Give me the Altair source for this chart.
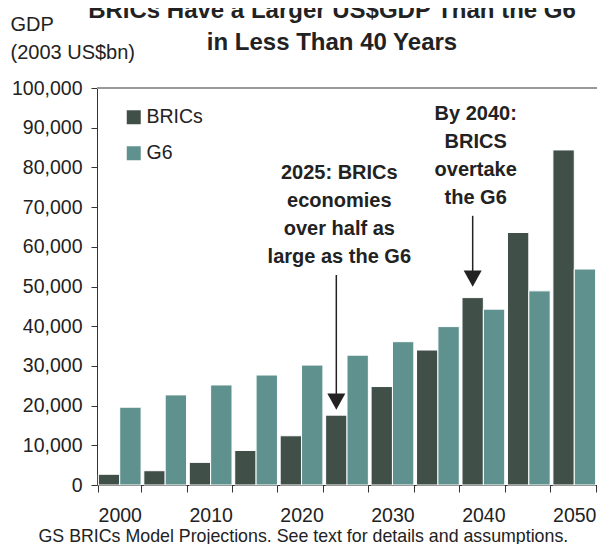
import altair as alt
import pandas as pd

# ---- data ----
years = [2000, 2005, 2010, 2015, 2020, 2025, 2030, 2035, 2040, 2045, 2050]
brics = [2700, 3600, 5700, 8700, 12400, 17600, 24800, 34000, 47200, 63600, 84400]
g6 = [19600, 22700, 25200, 27700, 30200, 32700, 36100, 39900, 44300, 48900, 54400]
series = ["BRICs", "G6"]
colors = ["#405049", "#5f918e"]
y_ticks = [0, 10000, 20000, 30000, 40000, 50000, 60000, 70000, 80000, 90000, 100000]

title_lines = ["BRICs Have a Larger US$GDP Than the G6", "in Less Than 40 Years"]
y_title = ["GDP", "(2003 US$bn)"]
footnote = "GS BRICs Model Projections. See text for details and assumptions."

note_years = [2025, 2040]
note_texts = [
    ["2025: BRICs", "economies", "over half as", "large as the G6"],
    ["By 2040:", "BRICS", "overtake", "the G6"],
]
# annotation anchors in GDP units
note_text_y = [77000, 91900]
note_arrow_top = [52900, 67800]
note_arrow_head = [21000, 52000]

FONT = "Liberation Sans"
INK = "#222222"

df = pd.DataFrame({
    "year": years * 2,
    "series": ["BRICs"] * len(years) + ["G6"] * len(years),
    "gdp": brics + g6,
})
ann = pd.DataFrame({
    "year": note_years,
    "series": ["BRICs", "BRICs"],
    "lines": note_texts,
    "ty": note_text_y,
    "a0": note_arrow_top,
    "a1": note_arrow_head,
})

xscale = alt.Scale(paddingInner=0.06, paddingOuter=0.03)
xoff = alt.XOffset("series:N", scale=alt.Scale(domain=series))
yscale = alt.Scale(domain=[0, 100000])

x_axis = alt.Axis(
    labelAngle=0, tickBand="extent", tickSize=7, tickColor="#333", domainColor="#333",
    labelFont=FONT, labelFontSize=19.5, labelColor=INK, labelPadding=14,
    labelExpr="datum.value % 10 === 0 ? datum.label : ''",
    title=footnote, titleFont=FONT, titleFontSize=17.8, titleFontWeight="normal",
    titleColor=INK, titleX=-59, titleY=56, titleAlign="left", titleAnchor="start",
    titleBaseline="alphabetic",
)
y_axis = alt.Axis(
    values=y_ticks, grid=False, tickSize=6, tickColor="#333", domainColor="#333",
    labelExpr="format(datum.value, ',')",
    labelFont=FONT, labelFontSize=19.5, labelColor=INK, labelPadding=9,
    title=y_title, titleFont=FONT, titleFontSize=20, titleFontWeight="normal",
    titleColor=INK, titleAngle=0, titleX=-87, titleY=-58, titleAlign="left",
    titleBaseline="alphabetic", titleLineHeight=28,
)

X = alt.X("year:O", scale=xscale, axis=x_axis)

bars = alt.Chart(df).mark_bar(stroke="white", strokeWidth=1).encode(
    x=X,
    xOffset=xoff,
    y=alt.Y("gdp:Q", scale=yscale, axis=y_axis),
    color=alt.Color(
        "series:N",
        scale=alt.Scale(domain=series, range=colors),
        legend=alt.Legend(
            title=None, orient="none", legendX=27, legendY=19.5, symbolType="square",
            symbolSize=196, symbolStrokeWidth=0, labelFont=FONT, labelFontSize=19.5,
            labelColor=INK, labelOffset=3, rowPadding=15, padding=0,
        ),
    ),
)

top_line = alt.Chart(df).mark_rule(color="#999999", strokeWidth=1).encode(
    y=alt.datum(100000, axis=y_axis)
)

texts = alt.Chart(ann).mark_text(
    font=FONT, fontSize=20, fontWeight="bold", lineHeight=28, baseline="alphabetic",
    align="center", dx=3, color=INK,
).encode(
    x=X, xOffset=xoff, y=alt.Y("ty:Q", axis=y_axis), text="lines:N"
)

arrows = alt.Chart(ann).mark_rule(color=INK, strokeWidth=1.5).encode(
    x=X, xOffset=xoff, y=alt.Y("a0:Q", axis=y_axis), y2="a1:Q"
)

heads = alt.Chart(ann).mark_point(
    shape="M-1,-0.9L1,-0.9L0,0.9Z", filled=True, size=324, color=INK, opacity=1
).encode(
    x=X, xOffset=xoff, y=alt.Y("a1:Q", axis=y_axis)
)

chart = alt.layer(bars, top_line, arrows, heads, texts).properties(
    width=500,
    height=397,
    autosize="none",
    padding={"left": 89, "top": 80, "right": 0, "bottom": 59},
    title=alt.TitleParams(
        title_lines, font=FONT, fontSize=24, fontWeight="bold", color=INK,
        lineHeight=32, anchor="middle", frame="group", dx=-15, offset=-41,
    ),
).configure_view(stroke=None)

chart.save("out.html", embed_options={"renderer": "svg", "actions": False})
